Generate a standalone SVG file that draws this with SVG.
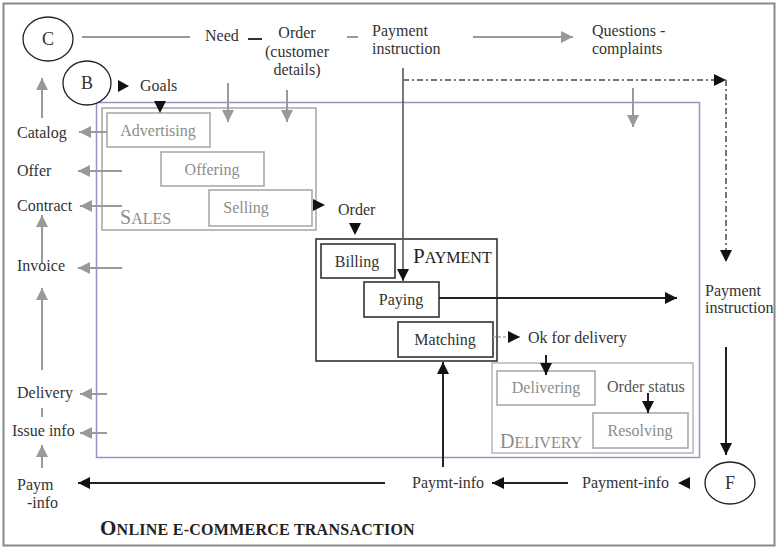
<svg xmlns="http://www.w3.org/2000/svg" width="779" height="549" viewBox="0 0 779 549">
<defs>
<marker id="ag" markerUnits="userSpaceOnUse" markerWidth="13" markerHeight="12" refX="12" refY="6" orient="auto"><path d="M0,0 L12,6 L0,12 z" fill="#999"/></marker>
<marker id="ab" markerUnits="userSpaceOnUse" markerWidth="13" markerHeight="12" refX="12" refY="6" orient="auto"><path d="M0,0 L12,6 L0,12 z" fill="#111"/></marker>
</defs>
<style>
.t{font-family:"Liberation Serif","Times New Roman",serif;font-size:16px;fill:#333}
.tg{font-family:"Liberation Serif","Times New Roman",serif;font-size:16px;fill:#8c8c8c}
.c{text-anchor:middle}
.lg{stroke:#9a9a9a;stroke-width:2;fill:none}
.lb{stroke:#222;stroke-width:2;fill:none}
.bg{fill:#fff;stroke:#aaa;stroke-width:1.6}
.bb{fill:#fff;stroke:#333;stroke-width:1.6}
.circ{fill:#fff;stroke:#222;stroke-width:1.3}
.ah{fill:#111}
</style>
<rect x="0" y="0" width="779" height="549" fill="#fff"/>
<rect x="3.5" y="3.5" width="771" height="542" fill="#fff" stroke="#888" stroke-width="2"/>
<rect x="96.5" y="102.5" width="603" height="355" fill="none" stroke="#9595c5" stroke-width="1.5"/>

<g id="node-C"><ellipse class="circ" cx="48" cy="39" rx="25" ry="22"/><text class="t c" x="48" y="45" style="font-size:18px">C</text></g>
<g id="node-B"><ellipse class="circ" cx="87" cy="83" rx="24" ry="22"/><text class="t c" x="87" y="89" style="font-size:18px">B</text></g>
<g id="node-F"><ellipse class="circ" cx="730" cy="483" rx="25" ry="21"/><text class="t c" x="730" y="489" style="font-size:18px">F</text></g>

<g id="sales">
<rect class="bg" x="102" y="108" width="214" height="122"/>
<text class="tg" x="120" y="224"><tspan style="font-size:20px">S</tspan><tspan>ALES</tspan></text>
</g>
<g id="node-advertising"><rect class="bg" x="107" y="113" width="103" height="34"/><text class="tg c" x="158" y="136">Advertising</text></g>
<g id="node-offering"><rect class="bg" x="161" y="152" width="103" height="34"/><text class="tg c" x="212" y="175">Offering</text></g>
<g id="node-selling"><rect class="bg" x="209" y="190" width="103" height="36"/><text class="tg c" x="246" y="213">Selling</text></g>

<g id="payment">
<rect class="bb" x="316" y="239" width="181" height="122"/>
<text class="t" x="413" y="263" style="fill:#222"><tspan style="font-size:21px">P</tspan><tspan>AYMENT</tspan></text>
</g>
<g id="node-billing"><rect class="bb" x="321" y="244" width="74" height="34"/><text class="t c" x="357" y="267">Billing</text></g>
<g id="node-paying"><rect class="bb" x="364" y="282" width="75" height="35"/><text class="t c" x="401" y="305">Paying</text></g>
<g id="node-matching"><rect class="bb" x="398" y="322" width="95" height="35"/><text class="t c" x="445" y="345">Matching</text></g>

<g id="delivery">
<rect class="bg" x="492" y="363" width="201" height="90" style="stroke:#bbb"/>
<text class="tg" x="500" y="448"><tspan style="font-size:20px">D</tspan><tspan>ELIVERY</tspan></text>
</g>
<g id="node-delivering"><rect class="bg" x="497" y="371" width="98" height="34"/><text class="tg c" x="546" y="393">Delivering</text></g>
<g id="node-resolving"><rect class="bg" x="593" y="413" width="95" height="35"/><text class="tg c" x="640" y="436">Resolving</text></g>
<g id="label-orderstatus"><text class="t" x="607" y="392" style="fill:#555">Order status</text></g>

<g id="labels">
<text class="t" x="17" y="138">Catalog</text>
<text class="t" x="17" y="176">Offer</text>
<text class="t" x="17" y="211">Contract</text>
<text class="t" x="17" y="271">Invoice</text>
<text class="t" x="17" y="398">Delivery</text>
<text class="t" x="12" y="436">Issue info</text>
<text class="t" x="17" y="490">Paym</text>
<text class="t" x="27" y="508">-info</text>
<text class="t" x="205" y="41">Need</text>
<text class="t c" x="297" y="38">Order</text>
<text class="t c" x="297" y="57">(customer</text>
<text class="t c" x="297" y="75">details)</text>
<text class="t" x="372" y="36">Payment</text>
<text class="t" x="372" y="54">instruction</text>
<text class="t" x="592" y="36">Questions -</text>
<text class="t" x="592" y="54">complaints</text>
<text class="t" x="140" y="91">Goals</text>
<text class="t" x="338" y="215">Order</text>
<text class="t" x="528" y="343">Ok for delivery</text>
<text class="t" x="705" y="296">Payment</text>
<text class="t" x="705" y="313">instruction</text>
<text class="t" x="412" y="488">Paymt-info</text>
<text class="t" x="582" y="488">Payment-info</text>
<text x="100" y="535" style="font-family:'Liberation Serif','Times New Roman',serif;font-weight:bold;font-size:16px;fill:#222;letter-spacing:0.25px"><tspan style="font-size:21px">O</tspan><tspan>NLINE E-COMMERCE TRANSACTION</tspan></text>
</g>

<g id="connectors">
<path class="lg" d="M82,37 H190"/>
<path d="M248,39 H262" stroke="#333" stroke-width="2"/>
<path class="lg" d="M347,37 H358"/>
<path class="lg" d="M473,37 H573" marker-end="url(#ag)"/>
<path d="M403,68 V281" stroke="#555" stroke-width="1.6" fill="none" marker-end="url(#ab)"/>
<path d="M403,80 H726" stroke="#777" stroke-width="2" stroke-dasharray="6,3,2,3" fill="none" marker-end="url(#ab)"/>
<path d="M726,80 V262" stroke="#777" stroke-width="2" stroke-dasharray="6,3,2,3" fill="none" marker-end="url(#ab)"/>
<path class="lg" d="M633,88 V127" marker-end="url(#ag)"/>
<polygon class="ah" points="118,80 129,86 118,92"/>
<polygon class="ah" points="154,101 166,101 160,113"/>
<path class="lg" d="M228,83 V122" marker-end="url(#ag)"/>
<path class="lg" d="M287,90 V122" marker-end="url(#ag)"/>
<path class="lg" d="M107,132 H79" marker-end="url(#ag)"/>
<path class="lg" d="M122,171 H78" marker-end="url(#ag)"/>
<path class="lg" d="M122,206 H80" marker-end="url(#ag)"/>
<path class="lg" d="M122,268 H78" marker-end="url(#ag)"/>
<path class="lg" d="M107,394 H80" marker-end="url(#ag)"/>
<path class="lg" d="M107,433 H80" marker-end="url(#ag)"/>
<path class="lg" d="M42,118 V78" marker-end="url(#ag)"/>
<path class="lg" d="M42,263 V215" marker-end="url(#ag)"/>
<path class="lg" d="M42,370 V288" marker-end="url(#ag)"/>
<path class="lg" d="M42,408 V417"/>
<path class="lg" d="M42,468 V445" marker-end="url(#ag)"/>
<polygon class="ah" points="313,199 325,205 313,211"/>
<polygon class="ah" points="349,223 361,223 355,235"/>
<path class="lb" d="M439,298 H677" marker-end="url(#ab)"/>
<path d="M493,337 H520" stroke="#aaa" stroke-width="1.5" stroke-dasharray="3,2" fill="none" marker-end="url(#ab)"/>
<path class="lb" d="M546,355 V375" marker-end="url(#ab)"/>
<path class="lb" d="M648,393 V413" marker-end="url(#ab)"/>
<path class="lb" d="M726,347 V455" marker-end="url(#ab)"/>
<path class="lb" d="M443,467 V362" marker-end="url(#ab)"/>
<polygon class="ah" points="690,477 678,483 690,489"/>
<path class="lb" d="M568,483 H492" marker-end="url(#ab)"/>
<path class="lb" d="M385,483 H78" marker-end="url(#ab)"/>
</g>
</svg>
